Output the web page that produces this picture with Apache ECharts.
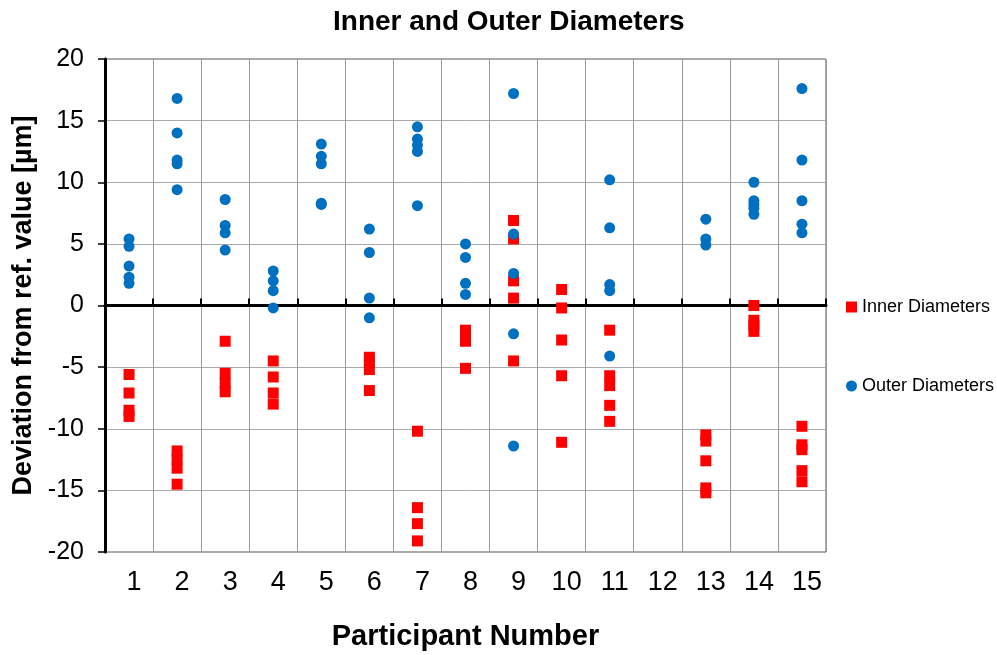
<!DOCTYPE html>
<html>
<head>
<meta charset="utf-8">
<script src="https://cdn.jsdelivr.net/npm/echarts@6/dist/echarts.min.js"></script>
<style>
  html, body { margin: 0; padding: 0; background: #fff; }
  #chart { width: 997px; height: 655px; }
</style>
</head>
<body>
<div id="chart"></div>
<script>
// participants on the x axis
var participants = ['1', '2', '3', '4', '5', '6', '7', '8', '9', '10', '11', '12', '13', '14', '15'];
var yTicks = [-20, -15, -10, -5, 0, 5, 10, 15, 20];

// deviations per participant (µm)
var innerValues = [
  [-5.6, -7.1, -8.5, -9.0],
  [-11.8, -12.5, -13.2, -14.5],
  [-2.9, -5.5, -6.3, -7.0],
  [-4.5, -5.8, -7.1, -8.0],
  [],
  [-4.2, -4.6, -5.2, -6.9],
  [-10.2, -16.4, -17.7, -19.1],
  [-2.0, -2.4, -2.9, -5.1],
  [6.9, 5.4, 2.0, 0.6, -4.5],
  [1.3, -0.2, -2.8, -5.7, -11.1],
  [-2.0, -5.7, -6.5, -8.1, -9.4],
  [],
  [-10.5, -11.0, -12.6, -14.8, -15.2],
  [0.0, -1.2, -1.6, -2.1],
  [-9.8, -11.3, -11.7, -13.4, -14.3]
];
var outerValues = [
  [5.4, 4.8, 3.2, 2.3, 1.8],
  [16.8, 14.0, 11.8, 11.5, 9.4],
  [8.6, 6.5, 5.9, 4.5],
  [2.8, 2.0, 1.2, -0.2],
  [13.1, 12.1, 11.5, 8.3, 8.2],
  [6.2, 4.3, 0.6, -1.0],
  [14.5, 13.5, 13.0, 12.5, 8.1],
  [5.0, 3.9, 1.8, 0.9],
  [17.2, 5.8, 2.6, -2.3, -11.4],
  [],
  [10.2, 6.3, 1.7, 1.2, -4.1],
  [],
  [7.0, 5.4, 4.9],
  [10.0, 8.5, 8.2, 7.9, 7.4],
  [17.6, 11.8, 8.5, 6.6, 5.9]
];

function toPoints(groups) {
  var pts = [];
  for (var i = 0; i < groups.length; i++) {
    for (var j = 0; j < groups[i].length; j++) {
      pts.push([participants[i], groups[i][j]]);
    }
  }
  return pts;
}

var chart = echarts.init(document.getElementById('chart'));
var font = 'Liberation Sans, Arial, sans-serif';

var option = {
  animation: false,
  backgroundColor: '#fff',
  textStyle: { fontFamily: font },
  title: {
    text: 'Inner and Outer Diameters',
    left: 328,
    top: 3,
    textStyle: { fontSize: 28, fontWeight: 'bold', color: '#000', fontFamily: font }
  },
  legend: {
    orient: 'vertical',
    left: 841,
    top: 293,
    itemWidth: 11,
    itemHeight: 11,
    itemGap: 61,
    textStyle: { fontSize: 18, color: '#000', fontFamily: font },
    data: [
      { name: 'Inner Diameters', icon: 'rect' },
      { name: 'Outer Diameters', icon: 'circle' }
    ]
  },
  grid: {
    left: 105,
    right: 171,
    top: 59,
    bottom: 103,
    outerBoundsMode: 'none',
    containLabel: false,
    show: true,
    borderColor: '#555',
    borderWidth: 1
  },
  xAxis: [
    {
      type: 'category',
      data: participants,
      boundaryGap: true,
      name: 'Participant Number',
      nameLocation: 'middle',
      nameGap: 70,
      nameTextStyle: { fontSize: 29, fontWeight: 'bold', color: '#000', fontFamily: font },
      axisLine: { show: false, onZero: false },
      axisTick: { show: false },
      axisLabel: { fontSize: 27, color: '#000', margin: 17, interval: 0, padding: [0, 0, 0, 10], fontFamily: font },
      splitLine: { show: true, interval: 0, lineStyle: { color: '#999', width: 1 } }
    },
    {
      type: 'category',
      data: participants,
      boundaryGap: true,
      axisLine: { show: true, onZero: true, lineStyle: { color: '#000', width: 3 } },
      axisTick: { show: true, interval: 0, length: 7, lineStyle: { color: '#000', width: 2 } },
      axisLabel: { show: false },
      splitLine: { show: false }
    }
  ],
  yAxis: {
    type: 'value',
    min: -20,
    max: 20,
    interval: 5,
    name: 'Deviation from ref. value [µm]',
    nameLocation: 'middle',
    nameGap: 68,
    nameTextStyle: { fontSize: 27, fontWeight: 'bold', color: '#000', fontFamily: font },
    axisLine: { show: true, onZero: false, lineStyle: { color: '#000', width: 3 } },
    axisTick: { show: true, length: 7, lineStyle: { color: '#000', width: 1.5 } },
    axisLabel: {
      fontSize: 25,
      color: '#000',
      margin: 21,
      padding: [4, 0, 0, 0],
      fontFamily: font,
      formatter: function (v) { return yTicks.indexOf(v) >= 0 ? String(v) : ''; }
    },
    splitLine: { show: true, lineStyle: { color: '#aaa', width: 1 } }
  },
  series: [
    {
      name: 'Inner Diameters',
      type: 'scatter',
      xAxisIndex: 0,
      symbol: 'rect',
      symbolSize: 11,
      itemStyle: { color: '#ff0000', opacity: 1 },
      data: toPoints(innerValues),
      z: 3
    },
    {
      name: 'Outer Diameters',
      type: 'scatter',
      xAxisIndex: 0,
      symbol: 'circle',
      symbolSize: 11,
      itemStyle: { color: '#0070c0', opacity: 1 },
      data: toPoints(outerValues),
      z: 4
    }
  ]
};

chart.setOption(option);
</script>
</body>
</html>
